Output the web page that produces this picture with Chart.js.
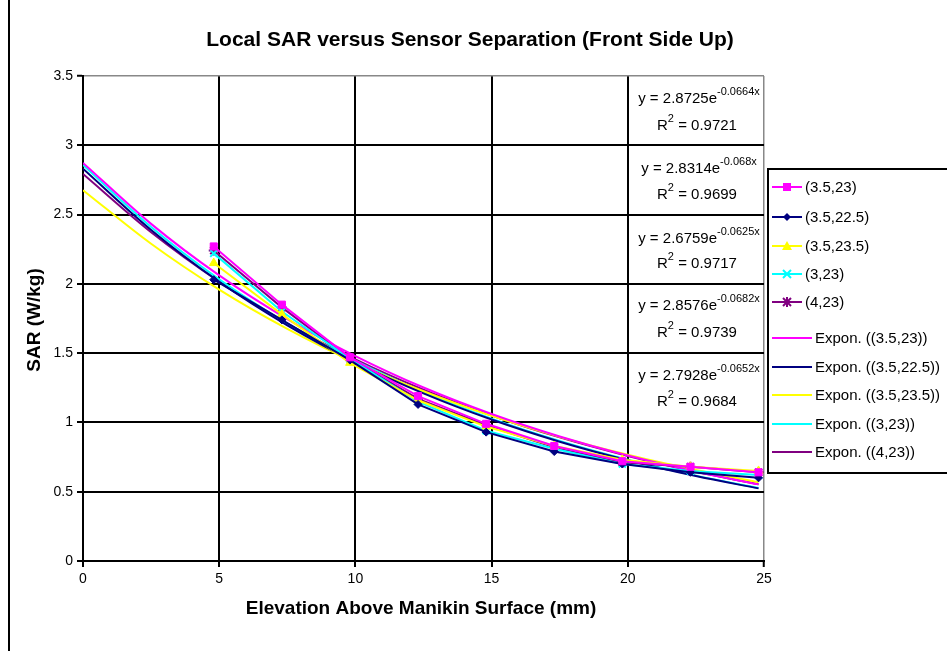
<!DOCTYPE html>
<html>
<head>
<meta charset="utf-8">
<script src="https://cdn.jsdelivr.net/npm/chart.js@4.4.1/dist/chart.umd.min.js"></script>
<style>
  body { margin: 0; background: #fff; }
  canvas { display: block; }
</style>
</head>
<body>
<canvas id="sarChart" width="947" height="651"></canvas>
<script>
// measured separations (mm)
var distX = [4.8, 7.3, 9.8, 12.3, 14.8, 17.3, 19.8, 22.3, 24.8];
var sar_35_23   = [2.27, 1.85, 1.47, 1.19, 0.99, 0.83, 0.72, 0.68, 0.64];
var sar_35_225  = [2.03, 1.74, 1.45, 1.13, 0.93, 0.79, 0.70, 0.64, 0.60];
var sar_35_235  = [2.15, 1.78, 1.43, 1.16, 0.97, 0.83, 0.73, 0.68, 0.65];
var sar_3_23    = [2.22, 1.80, 1.46, 1.15, 0.94, 0.81, 0.70, 0.65, 0.62];
var sar_4_23    = [2.24, 1.83, 1.46, 1.17, 0.98, 0.82, 0.71, 0.68, 0.64];

// trendline readings
var trendX = [0, 2.5, 5, 7.5, 10, 12.5, 15, 17.5, 20, 22.5, 24.8];
var trend_35_23  = [2.873, 2.433, 2.061, 1.746, 1.479, 1.252, 1.061, 0.899, 0.761, 0.645, 0.553];
var trend_35_225 = [2.831, 2.389, 2.015, 1.700, 1.434, 1.210, 1.021, 0.861, 0.727, 0.613, 0.524];
var trend_35_235 = [2.676, 2.289, 1.958, 1.675, 1.432, 1.225, 1.048, 0.896, 0.767, 0.656, 0.568];
var trend_3_23   = [2.858, 2.410, 2.032, 1.713, 1.445, 1.218, 1.027, 0.866, 0.730, 0.616, 0.527];
var trend_4_23   = [2.793, 2.373, 2.016, 1.713, 1.455, 1.236, 1.050, 0.892, 0.758, 0.644, 0.554];

var seriesNames = ['(3.5,23)', '(3.5,22.5)', '(3.5,23.5)', '(3,23)', '(4,23)'];
var seriesColors = ['#FF00FF', '#000080', '#FFFF00', '#00FFFF', '#800080'];
var seriesMarkers = ['rect', 'rectRot', 'triangle', 'crossRot', 'star'];

var eqCoef = ['2.8725', '2.8314', '2.6759', '2.8576', '2.7928'];
var eqExp = ['-0.0664x', '-0.068x', '-0.0625x', '-0.0682x', '-0.0652x'];
var eqR2 = ['0.9721', '0.9699', '0.9717', '0.9739', '0.9684'];

var yTicks = [0, 0.5, 1, 1.5, 2, 2.5, 3, 3.5];
var xTicks = [0, 5, 10, 15, 20, 25];

var FONT = '"Liberation Sans", Arial, sans-serif';

function pts(xs, ys) {
  var out = [];
  for (var i = 0; i < xs.length; i++) out.push({x: xs[i], y: ys[i]});
  return out;
}

var dataSeries = [sar_35_23, sar_35_225, sar_35_235, sar_3_23, sar_4_23];
var trendSeries = [trend_35_23, trend_35_225, trend_35_235, trend_3_23, trend_4_23];

var datasets = [];
dataSeries.forEach(function(vals, i) {
  datasets.push({
    label: seriesNames[i],
    data: pts(distX, vals),
    showLine: true,
    borderColor: seriesColors[i],
    backgroundColor: seriesColors[i],
    borderWidth: 2,
    pointStyle: seriesMarkers[i],
    pointRadius: (seriesMarkers[i] == 'rectRot') ? 4 : 5,
    pointBorderWidth: (i >= 3) ? 2 : 1,
    tension: 0
  });
});
trendSeries.forEach(function(vals, i) {
  datasets.push({
    label: 'Expon. (' + seriesNames[i] + ')',
    data: pts(trendX, vals),
    showLine: true,
    borderColor: seriesColors[i],
    backgroundColor: seriesColors[i],
    borderWidth: 2,
    pointRadius: 0,
    cubicInterpolationMode: 'monotone'
  });
});

function marker(ctx, style, x, y, color) {
  ctx.save();
  ctx.fillStyle = color;
  ctx.strokeStyle = color;
  ctx.lineWidth = 2;
  ctx.beginPath();
  if (style == 'rect') {
    ctx.fillRect(x - 4, y - 4, 8, 8);
  } else if (style == 'rectRot') {
    ctx.moveTo(x, y - 4); ctx.lineTo(x + 4, y); ctx.lineTo(x, y + 4); ctx.lineTo(x - 4, y); ctx.closePath(); ctx.fill();
  } else if (style == 'triangle') {
    ctx.moveTo(x, y - 5); ctx.lineTo(x + 5, y + 4); ctx.lineTo(x - 5, y + 4); ctx.closePath(); ctx.fill();
  } else if (style == 'crossRot') {
    ctx.moveTo(x - 4, y - 4); ctx.lineTo(x + 4, y + 4); ctx.moveTo(x + 4, y - 4); ctx.lineTo(x - 4, y + 4); ctx.stroke();
  } else if (style == 'star') {
    ctx.moveTo(x - 4, y - 4); ctx.lineTo(x + 4, y + 4); ctx.moveTo(x + 4, y - 4); ctx.lineTo(x - 4, y + 4);
    ctx.moveTo(x - 5, y); ctx.lineTo(x + 5, y); ctx.moveTo(x, y - 5); ctx.lineTo(x, y + 5); ctx.stroke();
  }
  ctx.restore();
}

var decorPlugin = {
  id: 'decor',
  afterDraw: function(chart) {
    var ctx = chart.ctx;
    ctx.save();
    // outer chart border
    ctx.strokeStyle = '#000';
    ctx.lineWidth = 2;
    ctx.beginPath();
    ctx.moveTo(9, 0); ctx.lineTo(9, 651);
    ctx.stroke();

    // title
    ctx.fillStyle = '#000';
    ctx.textAlign = 'center';
    ctx.textBaseline = 'alphabetic';
    ctx.font = 'bold 21px ' + FONT;
    ctx.fillText('Local SAR versus Sensor Separation (Front Side Up)', 470, 46);

    // axis titles
    ctx.font = 'bold 19px ' + FONT;
    ctx.textBaseline = 'middle';
    ctx.fillText('Elevation Above Manikin Surface (mm)', 421, 609);
    ctx.save();
    ctx.translate(35, 320);
    ctx.rotate(-Math.PI / 2);
    ctx.fillText('SAR (W/kg)', 0, 0);
    ctx.restore();

    // trendline equations
    var eqBase = [103, 173, 243, 310, 380];
    var r2Base = [130, 199, 268, 337, 406];
    ctx.textAlign = 'left';
    ctx.textBaseline = 'alphabetic';
    for (var i = 0; i < eqCoef.length; i++) {
      var main = 'y = ' + eqCoef[i] + 'e';
      ctx.font = '15px ' + FONT;
      var w1 = ctx.measureText(main).width;
      ctx.font = '11px ' + FONT;
      var w2 = ctx.measureText(eqExp[i]).width;
      var sx = 699 - (w1 + w2) / 2;
      ctx.font = '15px ' + FONT;
      ctx.fillText(main, sx, eqBase[i]);
      ctx.font = '11px ' + FONT;
      ctx.fillText(eqExp[i], sx + w1, eqBase[i] - 8);

      ctx.font = '15px ' + FONT;
      var wr = ctx.measureText('R').width;
      var rest = ' = ' + eqR2[i];
      var wrest = ctx.measureText(rest).width;
      ctx.font = '11px ' + FONT;
      var w2s = ctx.measureText('2').width;
      var rx = 697 - (wr + w2s + wrest) / 2;
      ctx.font = '15px ' + FONT;
      ctx.fillText('R', rx, r2Base[i]);
      ctx.fillText(rest, rx + wr + w2s, r2Base[i]);
      ctx.font = '11px ' + FONT;
      ctx.fillText('2', rx + wr, r2Base[i] - 8);
    }

    // legend box
    ctx.fillStyle = '#fff';
    ctx.fillRect(768, 169, 190, 304);
    ctx.strokeStyle = '#000';
    ctx.lineWidth = 2;
    ctx.strokeRect(768, 169, 190, 304);
    var rowY = [187, 217, 246, 274, 302, 338, 367, 395, 424, 452];
    ctx.font = '15px ' + FONT;
    ctx.textBaseline = 'middle';
    ctx.fillStyle = '#000';
    chart.data.datasets.forEach(function(ds, k) {
      var y = rowY[k];
      var c = ds.borderColor;
      var isTrend = k >= seriesNames.length;
      var x2 = isTrend ? 812 : 802;
      ctx.strokeStyle = c;
      ctx.lineWidth = 2;
      ctx.beginPath();
      ctx.moveTo(772, y); ctx.lineTo(x2, y);
      ctx.stroke();
      if (!isTrend) marker(ctx, seriesMarkers[k], 787, y, c);
      ctx.fillStyle = '#000';
      ctx.fillText(ds.label, x2 + 3, y + 1);
    });
    ctx.restore();
  }
};

new Chart(document.getElementById('sarChart'), {
  type: 'scatter',
  data: { datasets: datasets },
  plugins: [decorPlugin],
  options: {
    responsive: false,
    animation: false,
    devicePixelRatio: 1,
    layout: { padding: { left: 10, right: 183, top: 76, bottom: 0 } },
    plugins: {
      legend: { display: false },
      title: { display: false },
      tooltip: { enabled: false }
    },
    scales: {
      x: {
        type: 'linear',
        min: 0, max: 25,
        afterFit: function(scale) { scale.height = 90; },
        afterBuildTicks: function(scale) { scale.ticks = xTicks.map(function(v) { return {value: v}; }); },
        ticks: {
          color: '#000', font: { family: FONT, size: 14 }, padding: 4, maxRotation: 0,
          callback: function(v) { return String(v); }
        },
        grid: {
          color: function(c) { return (c.tick && c.tick.value == 25) ? '#888' : '#000'; },
          lineWidth: function(c) { return (c.tick && c.tick.value == 25) ? 1.5 : 2; },
          tickColor: '#000', tickLength: 6, tickWidth: 2
        },
        border: { color: '#000', width: 2 }
      },
      y: {
        type: 'linear',
        min: 0, max: 3.5,
        afterFit: function(scale) { scale.width = 73; },
        afterBuildTicks: function(scale) { scale.ticks = yTicks.map(function(v) { return {value: v}; }); },
        ticks: {
          color: '#000', font: { family: FONT, size: 14 }, padding: 4,
          callback: function(v) { return String(v); }
        },
        grid: {
          color: function(c) { return (c.tick && c.tick.value == 3.5) ? '#888' : '#000'; },
          lineWidth: function(c) { return (c.tick && c.tick.value == 3.5) ? 1.5 : 2; },
          tickColor: '#000', tickLength: 6, tickWidth: 2
        },
        border: { color: '#000', width: 2 }
      }
    }
  }
});
</script>
</body>
</html>
